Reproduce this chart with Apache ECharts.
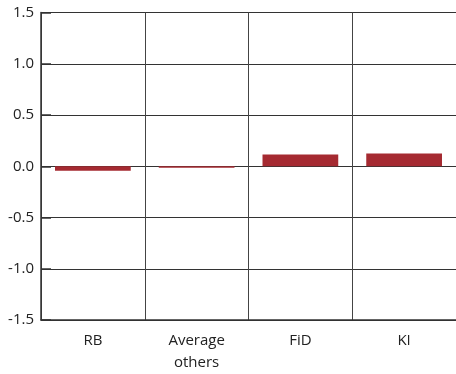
<!DOCTYPE html>
<html><head><meta charset="utf-8">
<script src="https://cdn.jsdelivr.net/npm/echarts@6/dist/echarts.min.js"></script>
<style>html,body{margin:0;padding:0;background:#fff;overflow:hidden}#c{width:456px;height:374px}</style>
</head><body><div id="c"></div>
<script>
var categories = ['RB', 'Average\nothers', 'FiD', 'KI'];
var values = [-0.044, -0.015, 0.115, 0.125];
var yTicks = { min: -1.5, max: 1.5, interval: 0.5 };

var chart = echarts.init(document.getElementById('c'), null, { renderer: 'canvas' });
chart.setOption({
  animation: false,
  grid: { left: 41, right: 0, top: 12.5, bottom: 51.5, containLabel: false },
  xAxis: {
    type: 'category', data: categories,
    axisLine: { onZero: false, lineStyle: { color: '#333', width: 1.5 } },
    axisTick: { show: false },
    splitLine: { show: true, interval: 0, lineStyle: { color: '#444', width: 1 } },
    axisLabel: { color: '#222', fontSize: 15, fontFamily: 'Open Sans', margin: 10, lineHeight: 22, interval: 0 }
  },
  yAxis: {
    type: 'value', min: yTicks.min, max: yTicks.max, interval: yTicks.interval,
    axisLine: { show: true, lineStyle: { color: '#333', width: 1.5 } },
    axisTick: { show: true, inside: true, length: 10, lineStyle: { color: '#333', width: 1.5 } },
    splitLine: { show: true, lineStyle: { color: '#333', width: 1 } },
    axisLabel: { color: '#222', fontSize: 15, fontFamily: 'Open Sans', margin: 7,
      formatter: function (v) { return v.toFixed(1); } }
  },
  series: [{
    type: 'bar', data: values, barWidth: '73%',
    itemStyle: { color: '#a52a31' }
  }]
});
</script></body></html>
